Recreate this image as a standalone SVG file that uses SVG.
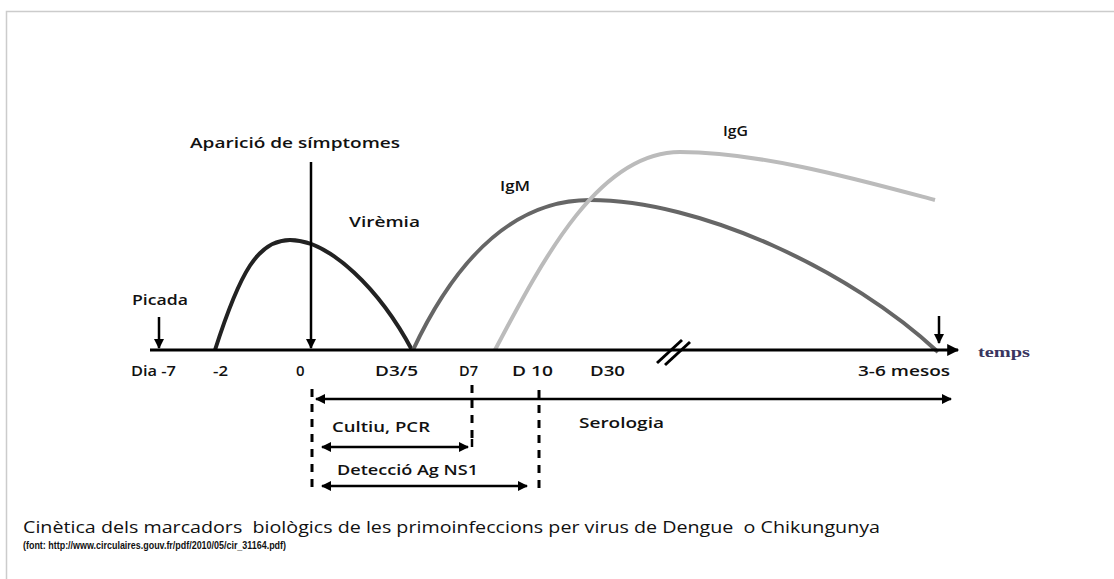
<svg xmlns="http://www.w3.org/2000/svg" width="1114" height="579" viewBox="0 0 1114 579">
<style>
.lbl{font-family:"Open Sans","Liberation Sans",sans-serif;font-weight:600;font-size:15px;fill:#111}
.ax{stroke:#000;stroke-width:3;fill:none}
.dash{stroke:#000;stroke-width:3;stroke-dasharray:8,7;fill:none}
.arr{stroke:#000;stroke-width:2.5;fill:none}
</style>
<defs>
<marker id="ah" viewBox="0 0 10 10" refX="9" refY="5" markerWidth="4.4" markerHeight="4" orient="auto-start-reverse"><path d="M0,0 L10,5 L0,10 z" fill="#000"/></marker>
</defs>
<rect x="0" y="0" width="1114" height="579" fill="#fff"/>
<path d="M6.5,579 V11.5 H1114" stroke="#ccc" stroke-width="1.5" fill="none"/>
<g id="curves">
<path id="viremia" d="M215,350 C240,272 258,240 290,240 C330,240 380,290 412,350" stroke="#222" stroke-width="4" fill="none"/>
<path id="igm" d="M413,350 C460,250 520,200 590,200 C700,200 850,270 938,352" stroke="#666" stroke-width="4" fill="none"/>
<path id="igg" d="M495,350 C545,255 600,152 680,152 C760,152 860,180 935,200" stroke="#bbb" stroke-width="4" fill="none"/>
</g>
<g id="connectors">
<line class="ax" x1="150" y1="350" x2="958" y2="350" marker-end="url(#ah)"/>
<line class="arr" x1="159" y1="317" x2="159" y2="348" marker-end="url(#ah)"/>
<line class="arr" x1="311" y1="162" x2="311" y2="348" marker-end="url(#ah)"/>
<line class="arr" x1="939" y1="316" x2="939" y2="343" marker-end="url(#ah)"/>
<line x1="657" y1="363" x2="682" y2="340" stroke="#000" stroke-width="3"/>
<line x1="665" y1="365" x2="690" y2="342" stroke="#000" stroke-width="3"/>
<line class="dash" x1="312" y1="389" x2="312" y2="490"/>
<line class="dash" x1="472" y1="385" x2="472" y2="440"/>
<line class="dash" x1="539" y1="390" x2="539" y2="492"/>
<line class="arr" x1="316" y1="399" x2="951" y2="399" marker-start="url(#ah)" marker-end="url(#ah)"/>
<line class="arr" x1="322" y1="447" x2="468" y2="447" marker-start="url(#ah)" marker-end="url(#ah)"/>
<line class="arr" x1="472" y1="439" x2="472" y2="447"/>
<line class="arr" x1="322" y1="486" x2="527" y2="486" marker-start="url(#ah)" marker-end="url(#ah)"/>
</g>
<g id="labels">
<text class="lbl" x="190" y="148" textLength="210" lengthAdjust="spacingAndGlyphs">Aparició de símptomes</text>
<text class="lbl" x="349" y="227" textLength="71" lengthAdjust="spacingAndGlyphs">Virèmia</text>
<text class="lbl" x="500" y="191" textLength="30" lengthAdjust="spacingAndGlyphs">IgM</text>
<text class="lbl" x="723" y="136" textLength="25" lengthAdjust="spacingAndGlyphs">IgG</text>
<text class="lbl" x="132" y="305" textLength="56" lengthAdjust="spacingAndGlyphs">Picada</text>
<text class="lbl" x="131" y="376" textLength="45" lengthAdjust="spacingAndGlyphs">Dia -7</text>
<text class="lbl" x="213" y="376" textLength="15" lengthAdjust="spacingAndGlyphs">-2</text>
<text class="lbl" x="296" y="376">0</text>
<text class="lbl" x="375" y="376" textLength="43" lengthAdjust="spacingAndGlyphs">D3/5</text>
<text class="lbl" x="459" y="376" textLength="19" lengthAdjust="spacingAndGlyphs">D7</text>
<text class="lbl" x="512" y="376" textLength="41" lengthAdjust="spacingAndGlyphs">D 10</text>
<text class="lbl" x="590" y="376" textLength="35" lengthAdjust="spacingAndGlyphs">D30</text>
<text class="lbl" x="858" y="376" textLength="92" lengthAdjust="spacingAndGlyphs">3-6 mesos</text>
<text x="978" y="357" font-family="Liberation Serif,serif" font-weight="bold" font-size="14" fill="#3a3560" textLength="52" lengthAdjust="spacingAndGlyphs">temps</text>
<text class="lbl" x="579" y="428" textLength="85" lengthAdjust="spacingAndGlyphs">Serologia</text>
<text class="lbl" x="332" y="432" textLength="98" lengthAdjust="spacingAndGlyphs">Cultiu, PCR</text>
<text class="lbl" x="337" y="475" textLength="141" lengthAdjust="spacingAndGlyphs">Detecció Ag NS1</text>
</g>
<g id="caption">
<text x="23" y="533" font-family="Open Sans,Liberation Sans,sans-serif" font-size="17" font-weight="500" fill="#111" textLength="857" lengthAdjust="spacingAndGlyphs" xml:space="preserve">Cinètica dels marcadors  biològics de les primoinfeccions per virus de Dengue  o Chikungunya</text>
<text x="23" y="549" font-family="Liberation Sans,sans-serif" font-weight="bold" font-size="11" fill="#111" textLength="263" lengthAdjust="spacingAndGlyphs">(font: http://www.circulaires.gouv.fr/pdf/2010/05/cir_31164.pdf)</text>
</g>
</svg>
